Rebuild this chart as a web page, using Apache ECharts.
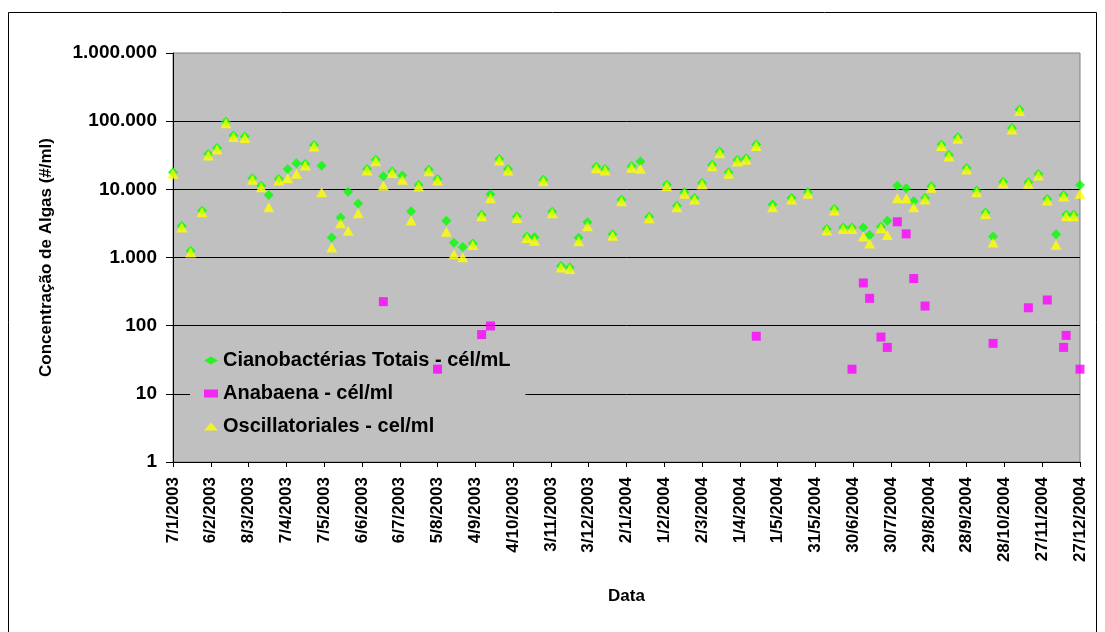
<!DOCTYPE html>
<html>
<head>
<meta charset="utf-8">
<script src="https://cdn.jsdelivr.net/npm/echarts@6/dist/echarts.min.js"></script>
<style>
  html, body { margin: 0; padding: 0; background: #ffffff; }
  #chart { width: 1105px; height: 632px; }
</style>
</head>
<body>
<div id="chart"></div>
<script>
// Sampling dates (one per collection)
const sampleDates = [
  '2003-01-07','2003-01-14','2003-01-21','2003-01-30','2003-02-04','2003-02-11','2003-02-18','2003-02-24','2003-03-05','2003-03-11',
  '2003-03-18','2003-03-24','2003-04-01','2003-04-08','2003-04-15','2003-04-22','2003-04-29','2003-05-05','2003-05-13','2003-05-20',
  '2003-05-26','2003-06-03','2003-06-10','2003-06-17','2003-06-23','2003-06-30','2003-07-08','2003-07-15','2003-07-21','2003-07-29',
  '2003-08-05','2003-08-12','2003-08-18','2003-08-25','2003-09-02','2003-09-09','2003-09-16','2003-09-23','2003-09-30','2003-10-07',
  '2003-10-15','2003-10-21','2003-10-28','2003-11-04','2003-11-11','2003-11-18','2003-11-25','2003-12-02','2003-12-09','2003-12-16',
  '2003-12-22','2003-12-29','2004-01-06','2004-01-13','2004-01-20','2004-02-03','2004-02-11','2004-02-17','2004-02-25','2004-03-02',
  '2004-03-10','2004-03-16','2004-03-23','2004-03-30','2004-04-06','2004-04-14','2004-04-27','2004-05-12','2004-05-25','2004-06-09',
  '2004-06-15','2004-06-22','2004-06-29','2004-07-08','2004-07-13','2004-07-22','2004-07-27','2004-08-04','2004-08-11','2004-08-17',
  '2004-08-26','2004-08-31','2004-09-08','2004-09-14','2004-09-21','2004-09-28','2004-10-06','2004-10-13','2004-10-19','2004-10-27',
  '2004-11-03','2004-11-09','2004-11-16','2004-11-24','2004-12-01','2004-12-08','2004-12-14','2004-12-16','2004-12-22','2004-12-27'
];

// Cianobactérias totais (cél/mL)
const cianobacterias = [
  17800, 2900, 1250, 4850, 33000, 40500, 98000, 61400, 59400, 14500,
  11300, 8240, 14150, 19900, 24100, 23500, 44800, 22200, 1970, 3870,
  9220, 6220, 19900, 27200, 15500, 18200, 16000, 4750, 11560, 19400,
  14150, 3450, 1640, 1430, 1610, 4230, 8500, 27900, 19900, 4010,
  2040, 1990, 13800, 4690, 752, 712, 1950, 3300, 21500, 19900,
  2200, 7030, 21800, 25500, 3950, 11700, 5740, 9030, 7450, 12400,
  23000, 35700, 17800, 27000, 28600, 45300, 6000, 7450, 9030, 2610,
  5130, 2760, 2760, 2760, 2130, 2820, 3450, 11300, 10340, 6660,
  7450, 11070, 45300, 31900, 58200, 20600, 9550, 4590, 2040, 12900,
  79600, 148000, 12700, 16800, 7200, 2200, 8240, 4240, 4240, 11560
];

// Oscillatoriales (cel/ml)
const oscillatoriales = [
  17800, 2900, 1250, 4850, 33000, 40500, 98000, 61400, 59400, 14500,
  11300, 5730, 14150, 15300, 17800, 23500, 44800, 9550, 1480, 3340,
  2600, 4690, 19900, 27200, 11960, 18200, 14500, 3660, 11560, 19400,
  14150, 2520, 1170, 1060, 1610, 4230, 7800, 27900, 19900, 4010,
  2040, 1860, 13800, 4690, 752, 712, 1820, 3020, 21500, 19900,
  2200, 7030, 21800, 21100, 3950, 11700, 5740, 9030, 7450, 12400,
  23000, 35700, 17800, 27000, 28600, 45300, 5740, 7450, 9030, 2610,
  5130, 2760, 2760, 2130, 1690, 2820, 2250, 7780, 7780, 5740,
  7450, 11070, 45300, 31900, 58200, 20600, 9550, 4590, 1750, 12900,
  79600, 148000, 12700, 16800, 7200, 1620, 8240, 4240, 4240, 9030
];

// Anabaena (cél/ml), only on dates where it was detected
const anabaenaDates = [
  '2003-06-23','2003-08-05','2003-09-09','2003-09-16','2004-04-14','2004-06-29','2004-07-08','2004-07-13','2004-07-22','2004-07-27',
  '2004-08-04','2004-08-11','2004-08-17','2004-08-26','2004-10-19','2004-11-16','2004-12-01','2004-12-14','2004-12-16','2004-12-27'
];
const anabaenaValues = [
  225, 23, 74, 99, 70, 23, 423, 252, 68, 48,
  3340, 2220, 491, 194, 55, 183, 238, 48, 72, 23
];

const seriesNames = ['Cianobactérias Totais - cél/mL', 'Anabaena - cél/ml', 'Oscillatoriales - cel/ml'];
const yTickValues = [1, 10, 100, 1000, 10000, 100000, 1000000];

// x is measured in days from the first sampling date, so 30-day ticks start there
const START = Date.UTC(2003, 0, 7);
const DAY = 86400000;
function dayOf(s) {
  const p = s.split('-').map(Number);
  return Math.round((Date.UTC(p[0], p[1] - 1, p[2]) - START) / DAY);
}
function dateLabel(d) {
  const t = new Date(START + d * DAY);
  return t.getUTCDate() + '/' + (t.getUTCMonth() + 1) + '/' + t.getUTCFullYear();
}
function thousands(v) {
  return String(Math.round(v)).replace(/\B(?=(\d{3})+(?!\d))/g, '.');
}

const FONT = '"Liberation Sans", Arial, sans-serif';

const chart = echarts.init(document.getElementById('chart'), null, { renderer: 'canvas' });

chart.setOption({
  animation: false,
  backgroundColor: '#ffffff',
  graphic: [{
    type: 'rect',
    shape: { x: 8.5, y: 12.5, width: 1088, height: 640 },
    style: { fill: 'none', stroke: '#000000', lineWidth: 1 },
    silent: true,
    z: -1
  }],
  grid: {
    left: 173, top: 53, width: 907, height: 409,
    show: true,
    backgroundColor: '#c0c0c0',
    borderColor: '#808080',
    borderWidth: 1
  },
  legend: {
    orient: 'vertical',
    left: 190, top: 342,
    padding: [8, 15, 8, 14],
    itemGap: 12,
    itemWidth: 14, itemHeight: 8,
    backgroundColor: '#c0c0c0',
    z: 1,
    textStyle: { fontFamily: FONT, fontSize: 20, fontWeight: 'bold', color: '#000000', lineHeight: 21 },
    data: seriesNames
  },
  xAxis: {
    type: 'value',
    min: 0, max: 720, interval: 30,
    name: 'Data',
    nameLocation: 'middle',
    nameGap: 126,
    nameTextStyle: { fontFamily: FONT, fontSize: 17, fontWeight: 'bold', color: '#000000' },
    axisLine: { show: true, lineStyle: { color: '#000000', width: 1 } },
    axisTick: { show: true, inside: false, length: 5, lineStyle: { color: '#000000' } },
    axisLabel: {
      rotate: 90, margin: 15,
      fontFamily: FONT, fontSize: 17, fontWeight: 'bold', color: '#000000',
      formatter: dateLabel
    },
    splitLine: { show: false }
  },
  yAxis: {
    type: 'log',
    logBase: 10,
    min: yTickValues[0], max: yTickValues[yTickValues.length - 1],
    splitNumber: yTickValues.length - 1,
    name: 'Concentração de Algas (#/ml)',
    nameLocation: 'middle',
    nameRotate: 90,
    nameGap: 118,
    nameTextStyle: { fontFamily: FONT, fontSize: 17, fontWeight: 'bold', color: '#000000' },
    axisLine: { show: true, lineStyle: { color: '#000000', width: 1 } },
    axisTick: { show: true, inside: false, length: 7, lineStyle: { color: '#000000' } },
    axisLabel: {
      margin: 16,
      fontFamily: FONT, fontSize: 19, fontWeight: 'bold', color: '#000000',
      formatter: thousands
    },
    splitLine: { show: true, showMaxLine: false, lineStyle: { color: '#000000', width: 1 } }
  },
  series: [
    {
      name: seriesNames[0],
      type: 'scatter',
      symbol: 'diamond',
      symbolSize: [10, 10],
      itemStyle: { color: '#00ff00' },
      data: sampleDates.map((d, i) => [dayOf(d), cianobacterias[i]]),
      z: 2
    },
    {
      name: seriesNames[1],
      type: 'scatter',
      symbol: 'rect',
      symbolSize: 9,
      itemStyle: { color: '#ff00ff' },
      data: anabaenaDates.map((d, i) => [dayOf(d), anabaenaValues[i]]),
      z: 3
    },
    {
      name: seriesNames[2],
      type: 'scatter',
      symbol: 'triangle',
      symbolSize: [11, 10],
      symbolOffset: [0, 1.5],
      itemStyle: { color: '#ffff00' },
      data: sampleDates.map((d, i) => [dayOf(d), oscillatoriales[i]]),
      z: 4
    }
  ]
});
</script>
</body>
</html>
